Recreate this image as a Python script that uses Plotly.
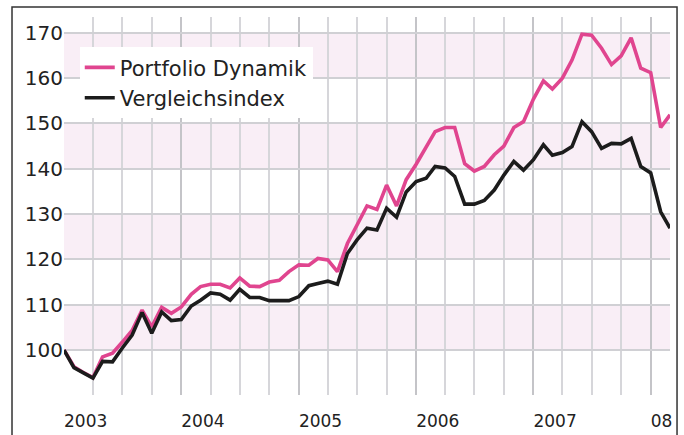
import pandas as pd
import plotly.graph_objects as go

months = pd.date_range("2003-01-01", periods=63, freq="MS")

portfolio_dynamik = [
    100.0, 96.3, 95.1, 93.9, 98.5, 99.3, 101.7, 104.3, 108.8, 105.1, 109.4, 108.1,
    109.5, 112.3, 114.0, 114.5, 114.5, 113.7, 115.9, 114.1, 114.0, 115.0, 115.4, 117.3,
    118.8, 118.7, 120.2, 119.9, 117.3, 123.5, 127.6, 131.8, 131.0, 136.4, 131.8, 137.6,
    141.0, 144.7, 148.2, 149.1, 149.1, 141.1, 139.5, 140.5, 143.1, 145.0, 149.1, 150.4,
    155.4, 159.4, 157.6, 160.0, 164.0, 169.7, 169.5, 166.6, 163.0, 164.9, 168.9, 162.2,
    161.2, 149.1, 151.9,
]

vergleichsindex = [
    100.0, 96.1, 95.0, 93.8, 97.5, 97.4, 100.4, 103.3, 108.3, 103.7, 108.4, 106.5,
    106.7, 109.7, 111.0, 112.6, 112.3, 111.0, 113.4, 111.6, 111.6, 110.9, 110.9, 110.9,
    111.8, 114.2, 114.7, 115.2, 114.5, 121.3, 124.3, 126.9, 126.5, 131.3, 129.3, 134.9,
    137.2, 137.9, 140.5, 140.2, 138.3, 132.2, 132.2, 133.0, 135.3, 138.6, 141.6, 139.7,
    142.0, 145.3, 143.0, 143.6, 144.9, 150.4, 148.2, 144.5, 145.6, 145.5, 146.7, 140.5,
    139.1, 130.5, 126.9,
]

year_ticks = ["2003-01-01", "2004-01-01", "2005-01-01", "2006-01-01", "2007-01-01", "2008-01-01"]
year_labels = ["2003", "2004", "2005", "2006", "2007", "08"]
y_ticks = [100, 110, 120, 130, 140, 150, 160, 170]
pink_bands = [(100, 110), (120, 130), (140, 150), (160, 170)]

PINK = "#E0458F"
BLACK = "#1c1c1c"
FONT = "DejaVu Sans"

fig = go.Figure()
fig.add_trace(go.Scatter(x=months, y=portfolio_dynamik, mode="lines", name="Portfolio Dynamik",
                         line=dict(color=PINK, width=3.6)))
fig.add_trace(go.Scatter(x=months, y=vergleichsindex, mode="lines", name="Vergleichsindex",
                         line=dict(color=BLACK, width=3.6)))

for lo, hi in pink_bands:
    fig.add_shape(type="rect", xref="paper", yref="y", x0=0, x1=1, y0=lo, y1=hi,
                  fillcolor="#F9EEF6", line_width=0, layer="below")

# outer frame
fig.add_shape(type="rect", xref="paper", yref="paper", x0=-0.0858, x1=1.0116, y0=-0.3, y1=1.0265,
              line=dict(color="#333333", width=1.5), fillcolor="rgba(0,0,0,0)", layer="above")

fig.update_layout(
    width=684, height=435,
    margin=dict(l=64, r=14, t=17, b=40),
    paper_bgcolor="white", plot_bgcolor="white",
    font=dict(family=FONT, color="#222222"),
    showlegend=True,
    legend=dict(x=0.026, y=0.92, xanchor="left", yanchor="top",
                bgcolor="white", font=dict(size=21, color="#222222"),
                itemwidth=30, tracegroupgap=0),
)
fig.update_xaxes(
    range=["2003-01-01", "2008-03-01"],
    tickvals=year_ticks, ticktext=year_labels,
    ticklabelposition="outside right",
    ticklabelstandoff=14,
    automargin=False,
    tickfont=dict(size=17, family=FONT, color="#222222"),
    showgrid=True, gridcolor="#c4c4c8", gridwidth=2,
    minor=dict(dtick="M3", tick0="2003-01-01", showgrid=True, gridcolor="#d6d6da", gridwidth=1.5),
    zeroline=False, showline=False, ticks="",
)
fig.update_yaxes(
    range=[90.07, 173.5],
    tickvals=y_ticks,
    automargin=False,
    tickfont=dict(size=20, family=FONT, color="#222222"),
    showgrid=True, gridcolor="#d0d0d4", gridwidth=1.5,
    zeroline=False, showline=False, ticks="",
)

fig.write_html("out.html", post_script="document.body.style.margin='0';",
               config={"displayModeBar": False})
